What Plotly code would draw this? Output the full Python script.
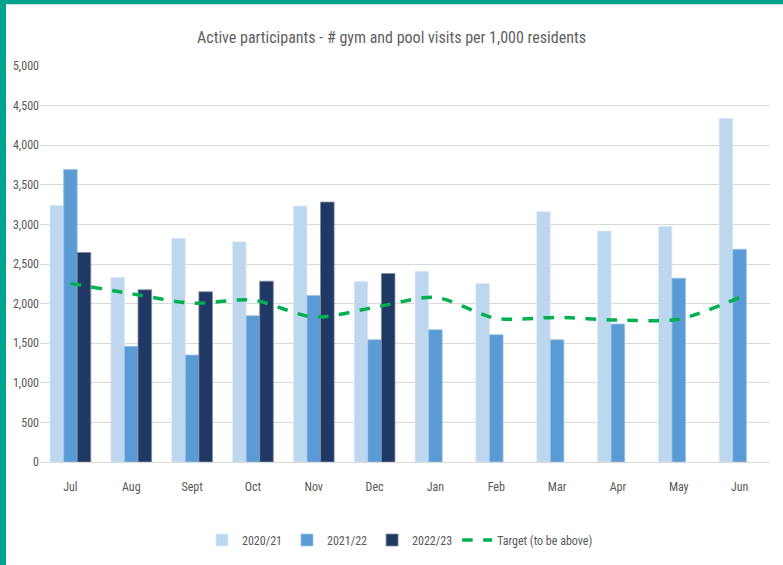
import plotly.graph_objects as go

months = ["Jul", "Aug", "Sept", "Oct", "Nov", "Dec", "Jan", "Feb", "Mar", "Apr", "May", "Jun"]
visits_2020_21 = [3240, 2330, 2825, 2780, 3232, 2280, 2410, 2254, 3161, 2917, 2976, 4336]
visits_2021_22 = [3694, 1461, 1351, 1847, 2103, 1544, 1670, 1607, 1544, 1742, 2321, 2686]
visits_2022_23 = [2645, 2174, 2149, 2283, 3282, 2380, None, None, None, None, None, None]
target = [2255, 2125, 2005, 2045, 1830, 1952, 2078, 1812, 1826, 1792, 1803, 2078]

y_ticks = [0, 500, 1000, 1500, 2000, 2500, 3000, 3500, 4000, 4500, 5000]

FONT = "Liberation Sans Narrow, Roboto Condensed, Arial Narrow, Open Sans, sans-serif"
GREY = "#595959"

fig = go.Figure()
fig.add_trace(go.Bar(name="2020/21", x=months, y=visits_2020_21,
                     marker=dict(color="#BDD7EE", line=dict(color="#DDEBF7", width=0.8))))
fig.add_trace(go.Bar(name="2021/22", x=months, y=visits_2021_22,
                     marker=dict(color="#5B9BD5", line=dict(color="#9DC3E6", width=0.8))))
fig.add_trace(go.Bar(name="2022/23", x=months, y=visits_2022_23,
                     marker=dict(color="#203864", line=dict(color="#7F8CA3", width=0.8))))
fig.add_trace(go.Scatter(name="Target (to be above)", x=months, y=target, mode="lines",
                         line=dict(color="#00B050", width=3.5, dash="dash",
                                   shape="spline", smoothing=0.8)))

# teal frame along the top and left edges of the page
teal = "#00A38F"
L, W, T, H = 40, 730, 66, 397
def px_x(p):
    return (p - L) / W
def px_y(p):
    return (T + H - p) / H
shapes = [
    dict(type="rect", xref="paper", yref="paper", x0=px_x(-2), x1=px_x(6),
         y0=px_y(575), y1=px_y(-2), fillcolor=teal, line=dict(width=0), layer="above"),
    dict(type="rect", xref="paper", yref="paper", x0=px_x(-2), x1=px_x(790),
         y0=px_y(4), y1=px_y(-2), fillcolor=teal, line=dict(width=0), layer="above"),
]

fig.update_layout(
    width=783, height=565,
    margin=dict(l=L, r=783 - L - W, t=T, b=565 - T - H),
    paper_bgcolor="white", plot_bgcolor="white",
    barmode="group", bargap=0.33, bargroupgap=0,
    font=dict(family=FONT, color=GREY, size=12),
    title=dict(text="Active participants - # gym and pool visits per 1,000 residents",
               x=0.5, xanchor="center", y=1 - 37 / 565, yanchor="middle",
               font=dict(family=FONT, size=16, color="#5f5f5f")),
    xaxis=dict(showgrid=False, showline=True, linecolor="#D9D9D9", linewidth=1,
               ticks="", ticklabelstandoff=14, tickfont=dict(size=12, color=GREY)),
    yaxis=dict(range=[0, 5000], tickvals=y_ticks, tickformat=",", showgrid=True,
               gridcolor="#D9D9D9", gridwidth=1, zeroline=False, showline=False,
               ticks="", tickfont=dict(size=12, color=GREY)),
    legend=dict(orientation="h", x=px_x(400), xanchor="center", y=px_y(540),
                yanchor="middle", font=dict(size=12, color=GREY),
                traceorder="normal", itemwidth=30),
    shapes=shapes,
    showlegend=True,
)

fig.write_html("out.html")
